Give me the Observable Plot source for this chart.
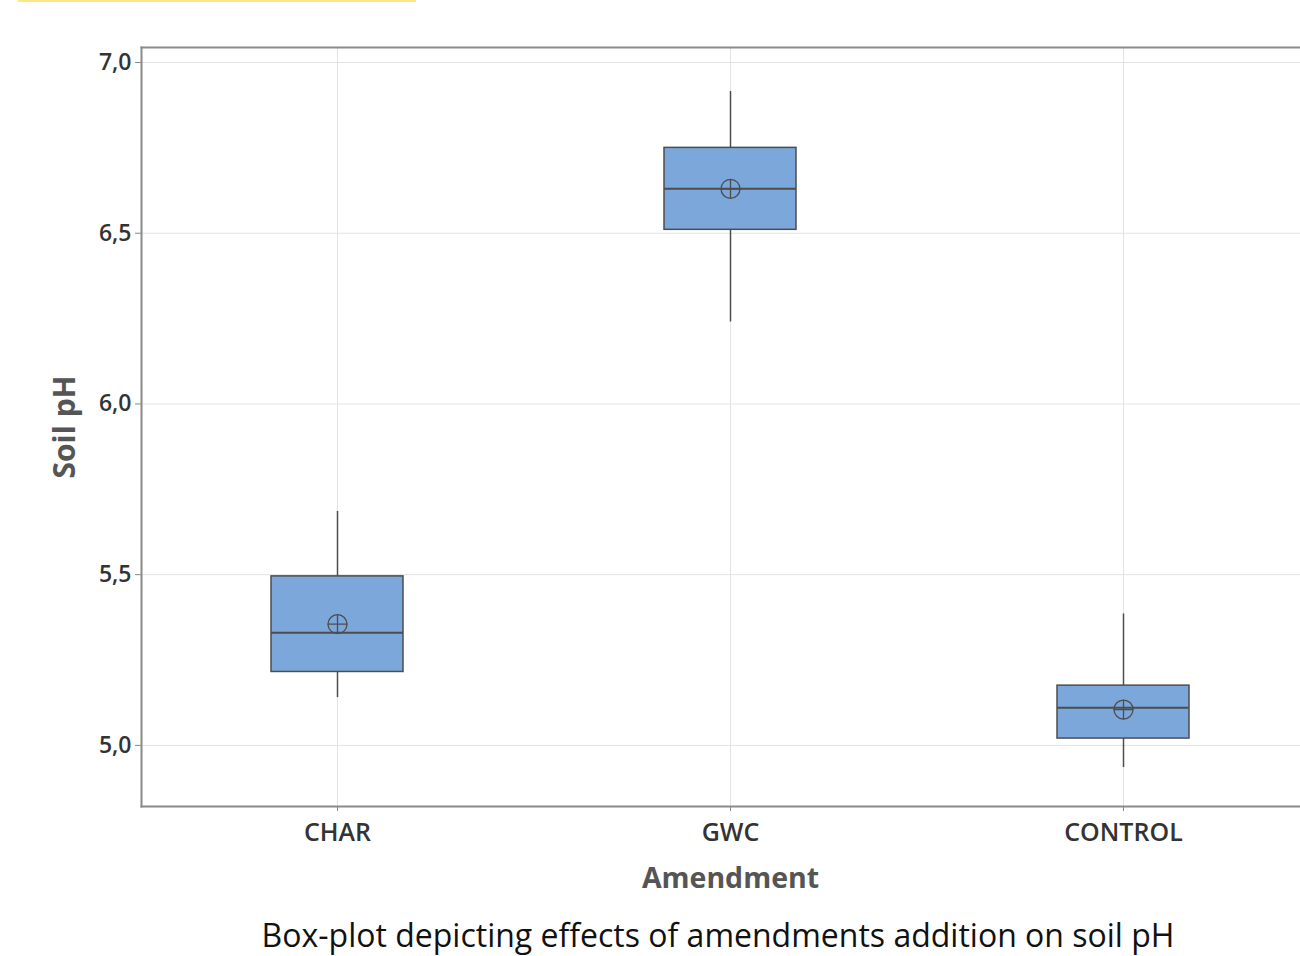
<!DOCTYPE html>
<html><head><meta charset="utf-8">
<script src="https://cdn.jsdelivr.net/npm/d3@7"></script>
<script src="https://cdn.jsdelivr.net/npm/@observablehq/plot@0.6"></script>
<style>
html,body{margin:0;padding:0;background:#fff;overflow:hidden;}
#wrap{position:relative;width:1300px;height:956px;overflow:hidden;}
#hl{position:absolute;left:18px;top:0;width:398px;height:2px;background:#ffe680;z-index:2;}
#chart{position:absolute;left:0;top:0;}
#cap{position:absolute;left:208px;width:1020px;top:917px;text-align:center;font-family:"Open Sans",sans-serif;font-size:32px;line-height:36px;color:#111;white-space:nowrap;}
</style></head>
<body>
<div id="wrap"><div id="chart"></div><div id="hl"></div>
<div id="cap">Box-plot depicting effects of amendments addition on soil pH</div></div>
<script>
const amendments = ["CHAR", "GWC", "CONTROL"];
const whiskerLow = [5.14, 6.24, 4.935];
const q1 = [5.215, 6.51, 5.02];
const median = [5.33, 6.63, 5.11];
const q3 = [5.495, 6.75, 5.175];
const whiskerHigh = [5.685, 6.915, 5.385];
const mean = [5.355, 6.63, 5.105];
const yTicks = [5.0, 5.5, 6.0, 6.5, 7.0];

const rows = amendments.map((a, i) => ({
  amendment: a, low: whiskerLow[i], q1: q1[i], median: median[i],
  q3: q3[i], high: whiskerHigh[i], mean: mean[i]
}));

const ink = "#4d4d4d";
const plot = Plot.plot({
  width: 1300, height: 900,
  marginLeft: 141, marginRight: 0, marginTop: 47, marginBottom: 94,
  x: {type: "band", domain: amendments, range: [141, 1320], paddingInner: 0.664, paddingOuter: 0.332, label: null},
  y: {domain: [4.821, 7.044], label: null},
  style: {fontFamily: "Open Sans, sans-serif", background: "white", overflow: "visible"},
  marks: [
    Plot.gridY({ticks: yTicks, stroke: "#e3e3e3", strokeOpacity: 1}),
    Plot.gridX({stroke: "#e3e3e3", strokeOpacity: 1}),
    Plot.ruleX(rows, {x: "amendment", y1: "low", y2: "high", stroke: ink, strokeWidth: 1.5}),
    Plot.barY(rows, {x: "amendment", y1: "q1", y2: "q3", fill: "#7ba7da", stroke: ink, strokeWidth: 1.5}),
    Plot.tickY(rows, {x: "amendment", y: "median", stroke: ink, strokeWidth: 2}),
    Plot.dot(rows, {x: "amendment", y: "mean", r: 9.5, stroke: ink, fill: "none", strokeWidth: 1.3}),
    Plot.dot(rows, {x: "amendment", y: "mean", symbol: "plus", r: 6.4, stroke: ink, strokeWidth: 1.3}),
    Plot.axisY({ticks: yTicks, tickFormat: d => d.toFixed(1).replace(".", ","), tickSize: 6, tickPadding: 4,
      fontSize: 23, fontWeight: 600, fill: "#333", stroke: "#888", label: null}),
    Plot.axisX({tickSize: 5, tickPadding: 12, fontSize: 25, fontWeight: 600, fill: "#333", stroke: "#888", label: null}),
    Plot.frame({anchor: "left", stroke: "#8a8a8a", strokeWidth: 2}),
    Plot.frame({anchor: "top", stroke: "#8a8a8a", strokeWidth: 2}),
    Plot.frame({anchor: "bottom", stroke: "#8a8a8a", strokeWidth: 2}),
    Plot.text(["Soil pH"], {frameAnchor: "left", dx: -76, rotate: -90, textAnchor: "middle", fontSize: 30, fontWeight: 700, fill: "#555"}),
    Plot.text(["Amendment"], {x: ["GWC"], frameAnchor: "bottom", dy: 81, fontSize: 28.5, fontWeight: 700, fill: "#555"})
  ]
});
document.getElementById("chart").appendChild(plot);
</script>
</body></html>
